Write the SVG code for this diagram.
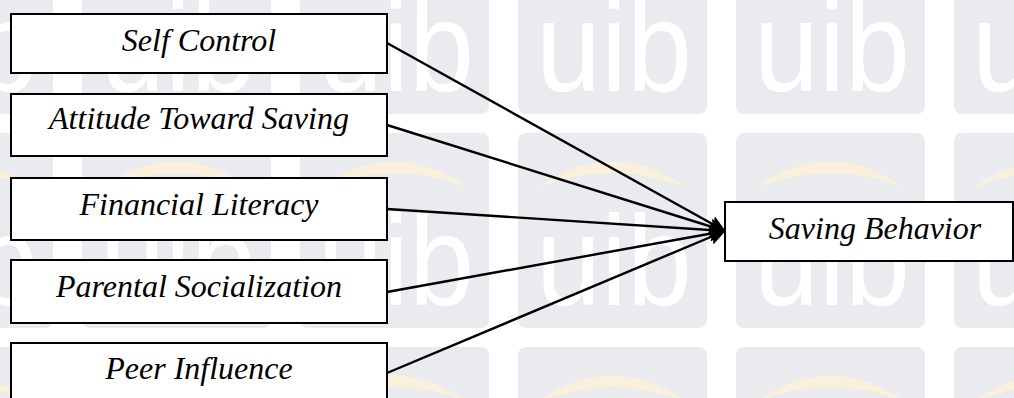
<svg xmlns="http://www.w3.org/2000/svg" width="1014" height="398" viewBox="0 0 1014 398">
  <style>
    .box { fill: #ffffff; stroke: #000000; stroke-width: 2; }
    .lbl { font-family: 'Liberation Serif', 'Times New Roman', 'DejaVu Serif', serif; font-style: italic; font-size: 32px; fill: #000000; text-anchor: middle; }
    .edge { fill: none; stroke: #000000; stroke-width: 2.4; marker-end: url(#arrow); }
    .wm { font-family: 'Liberation Sans', Arial, sans-serif; font-size: 128px; fill: #ffffff; }
  </style>
  <defs>
    <marker id="arrow" markerUnits="userSpaceOnUse" markerWidth="17" markerHeight="16" refX="16" refY="8" orient="auto">
      <path d="M0,0 L17,8 L0,16 L3,8 Z" fill="#000000"/>
    </marker>
    <pattern id="wmtile" patternUnits="userSpaceOnUse" x="82" y="-81" width="218" height="214">
      <rect x="0" y="0" width="189" height="195" rx="8" fill="#eaebef"/>
      <path d="M19,55 Q94,2 169,55 Q94,25 19,55 Z" fill="#faf0dc"/>
      <text class="wm" x="18" y="172" textLength="156" lengthAdjust="spacingAndGlyphs">uib</text>
    </pattern>
  </defs>

  <g id="background">
    <rect x="0" y="0" width="1014" height="398" fill="#ffffff"/>
    <rect x="0" y="0" width="1014" height="398" fill="url(#wmtile)"/>
  </g>

  <g id="connectors">
    <line class="edge" x1="387" y1="43" x2="725" y2="231"/>
    <line class="edge" x1="387" y1="125" x2="725" y2="231"/>
    <line class="edge" x1="387" y1="209" x2="725" y2="231"/>
    <line class="edge" x1="387" y1="292" x2="725" y2="231"/>
    <line class="edge" x1="387" y1="373" x2="725" y2="231"/>
  </g>

  <g id="self-control">
    <rect class="box" x="11" y="14" width="376" height="59"/>
    <text class="lbl" x="199" y="51">Self Control</text>
  </g>
  <g id="attitude-toward-saving">
    <rect class="box" x="11" y="94" width="376" height="62"/>
    <text class="lbl" x="199" y="129">Attitude Toward Saving</text>
  </g>
  <g id="financial-literacy">
    <rect class="box" x="11" y="178" width="376" height="62"/>
    <text class="lbl" x="199" y="215">Financial Literacy</text>
  </g>
  <g id="parental-socialization">
    <rect class="box" x="11" y="260" width="376" height="63"/>
    <text class="lbl" x="199" y="297">Parental Socialization</text>
  </g>
  <g id="peer-influence">
    <rect class="box" x="11" y="343" width="376" height="70"/>
    <text class="lbl" x="199" y="379">Peer Influence</text>
  </g>
  <g id="saving-behavior">
    <rect class="box" x="725" y="202" width="288" height="59"/>
    <text class="lbl" x="875" y="239">Saving Behavior</text>
  </g>
</svg>
